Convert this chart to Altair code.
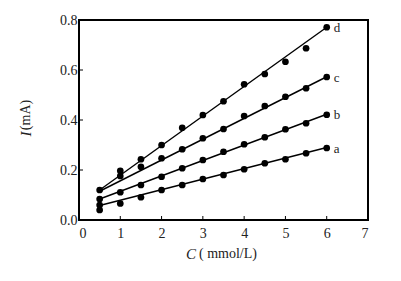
import altair as alt
import pandas as pd

conc = [0.5, 1, 1.5, 2, 2.5, 3, 3.5, 4, 4.5, 5, 5.5, 6]
series_a = [0.040, 0.066, 0.091, 0.120, 0.140, 0.164, 0.180, 0.203, 0.227, 0.243, 0.267, 0.288]
series_b = [0.084, 0.111, 0.140, 0.173, 0.207, 0.240, 0.273, 0.303, 0.331, 0.363, 0.387, 0.421]
series_c = [0.060, 0.176, 0.213, 0.247, 0.283, 0.327, 0.364, 0.416, 0.456, 0.493, 0.527, 0.572]
series_d = [0.120, 0.197, 0.243, 0.300, 0.369, 0.420, 0.475, 0.543, 0.584, 0.633, 0.687, 0.771]
names = ["a", "b", "c", "d"]
# fitted line end points (x = 0.5 and x = 6)
fit_start = [0.058, 0.084, 0.115, 0.120]
fit_end = [0.290, 0.423, 0.573, 0.771]
fit_x = [0.5, 6]
x_ticks = [0, 1, 2, 3, 4, 5, 6, 7]
y_ticks = [0.0, 0.2, 0.4, 0.6, 0.8]

rows = []
for n, vals in zip(names, [series_a, series_b, series_c, series_d]):
    for x, y in zip(conc, vals):
        rows.append({"s": n, "C": x, "I": y})
pts = pd.DataFrame(rows)

lrows = []
for n, y0, y1 in zip(names, fit_start, fit_end):
    lrows.append({"s": n, "C": fit_x[0], "I": y0})
    lrows.append({"s": n, "C": fit_x[1], "I": y1})
lines_df = pd.DataFrame(lrows)
lab_df = pd.DataFrame({"s": names, "C": [6] * 4, "I": fit_end})

xs = alt.Scale(domain=[0, 7], nice=False)
ys = alt.Scale(domain=[0, 0.8], nice=False)
font = "Liberation Serif"

xax = alt.Axis(values=x_ticks, format="d", tickSize=0, labelPadding=6, domain=False,
               labelFont=font, labelFontSize=14, labelColor="#222", grid=False, title=None)
yax = alt.Axis(values=y_ticks, format=".1f", tickSize=0, labelPadding=2, domain=False,
               labelFont=font, labelFontSize=14, labelColor="#222", grid=False, title=None)

base_x = alt.X("C:Q", scale=xs, axis=xax)
base_y = alt.Y("I:Q", scale=ys, axis=yax)

lines = alt.Chart(lines_df).mark_line(color="black", strokeWidth=1.4).encode(
    x=base_x, y=base_y, detail="s:N")
points = alt.Chart(pts).mark_circle(color="black", size=45, opacity=1).encode(
    x=base_x, y=base_y)
labels = alt.Chart(lab_df).mark_text(font=font, fontSize=13, align="left", dx=7, dy=1,
                                     color="#222").encode(
    x=base_x, y=base_y, text="s:N")

xt = alt.Chart(pd.DataFrame({"C": x_ticks[1:-1]})).mark_rule(color="black", strokeWidth=1).encode(
    x=alt.X("C:Q", scale=xs), y=alt.value(200), y2=alt.value(196))
yt = alt.Chart(pd.DataFrame({"I": y_ticks[1:-1]})).mark_rule(color="black", strokeWidth=1).encode(
    y=alt.Y("I:Q", scale=ys), x=alt.value(0), x2=alt.value(4))

t_I = alt.Chart(pd.DataFrame({"t": ["I"]})).mark_text(
    font=font, fontSize=15, fontStyle="italic", angle=270, color="#222").encode(
    text="t:N", x=alt.value(-53), y=alt.value(114))
t_mA = alt.Chart(pd.DataFrame({"t": ["(mA)"]})).mark_text(
    font=font, fontSize=14, angle=270, color="#222").encode(
    text="t:N", x=alt.value(-53), y=alt.value(95))
t_C = alt.Chart(pd.DataFrame({"t": ["C"]})).mark_text(
    font=font, fontSize=15, fontStyle="italic", color="#222").encode(
    text="t:N", x=alt.value(112), y=alt.value(234))
t_unit = alt.Chart(pd.DataFrame({"t": ["( mmol/L)"]})).mark_text(
    font=font, fontSize=14, align="left", color="#222").encode(
    text="t:N", x=alt.value(120), y=alt.value(234))

chart = alt.layer(lines, points, labels, xt, yt, t_I, t_mA, t_C, t_unit).properties(
    width=289, height=200,
    autosize=alt.AutoSizeParams(type="none"),
    padding={"left": 71, "top": 12, "right": 25, "bottom": 53},
).configure(background="white", font=font).configure_axis(
    labelFont=font, labelFontSize=14
).configure_view(stroke="black", strokeWidth=2)

chart.save("out.html", embed_options={"renderer": "svg", "actions": False})
